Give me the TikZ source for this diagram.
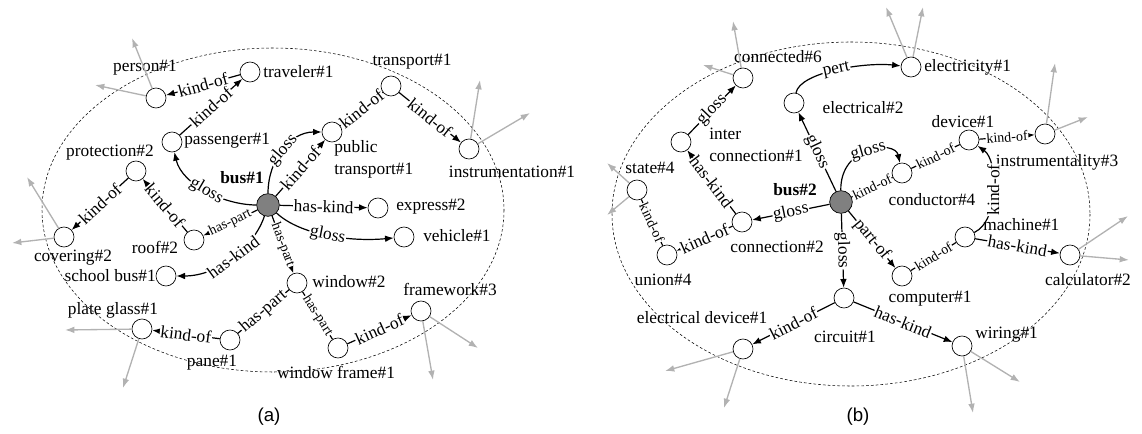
\documentclass[tikz,border=0pt]{standalone}
\usepackage{fontspec}
\setmainfont{Liberation Serif}
\setsansfont{Liberation Sans}
\usetikzlibrary{arrows.meta}
\tikzset{
  concept/.style={circle, draw, line width=0.5pt, minimum size=15pt, inner sep=0pt, fill=white},
  hub/.style={concept, fill=black!50, minimum size=17pt},
  word/.style={inner sep=0pt, font=\fontsize{13}{16.5}\selectfont},
  rel/.style={line width=0.9pt, -{Latex[length=6.5pt,width=5pt]}},
  bare/.style={line width=0.9pt},
  lbl/.style={pos=0.5, sloped, fill=white, inner sep=0.6pt, font=\fontsize{13}{15}\selectfont},
  slbl/.style={lbl, font=\fontsize{10.5}{12}\selectfont},
  away/.style={gray!60, line width=1pt, -{Latex[length=7pt,width=5pt]}},
  halo/.style={dashed, dash pattern=on 2pt off 1.6pt, line width=0.4pt},
  caption/.style={inner sep=0pt, font=\sffamily\fontsize{14}{16}\selectfont}
}
\begin{document}
\begin{tikzpicture}[x=0.75pt, y=-0.75pt]
\useasboundingbox (0,0) rectangle (1142,434);

% (a) bus#1
\draw[halo] (273,210) ellipse [x radius=231, y radius=162];
\node[hub] (bus) at (268,205) {};
\foreach \n/\x/\y in {passenger/172/142, traveler/250/72, person/156/98,
    protection/136/171, covering/64/237, roof/194/240, schoolbus/166/276,
    window/297/283, pane/230/340, plateglass/142/329, windowframe/338/348,
    framework/421/311, vehicle/404/237, express/378/208, publictr/332/132,
    transport/391/86, instrument/469/149}
  \node[concept] (\n) at (\x,\y) {};

\node[word, font=\fontsize{13}{16.5}\selectfont\bfseries] (buslab) at (242,178) {bus\#1};
\node[word] (personlab) at (145,68) {person\#1};
\node[word, anchor=west] (travelerlab) at (263,72) {traveler\#1};
\node[word, anchor=west] (passengerlab) at (184,141) {passenger\#1};
\node[word] (protectionlab) at (110,153) {protection\#2};
\node[word] (coveringlab) at (73,258) {covering\#2};
\node[word] (rooflab) at (155,247) {roof\#2};
\node[word, anchor=east] (schoolbuslab) at (156,276) {school bus\#1};
\node[word] (plateglasslab) at (113,310) {plate glass\#1};
\node[word] (panelab) at (212,363) {pane\#1};
\node[word] (windowframelab) at (336,372) {window frame\#1};
\node[word] (frameworklab) at (450,289) {framework\#3};
\node[word, anchor=west] (windowlab) at (312,282) {window\#2};
\node[word, anchor=west] (vehiclelab) at (423,236) {vehicle\#1};
\node[word, anchor=west] (expresslab) at (396,207) {express\#2};
\node[word, anchor=north west, align=left] (publictrlab) at (334,140) {public\\transport\#1};
\node[word] (transportlab) at (412,62) {transport\#1};
\node[word] (instrumentlab) at (512,172) {instrumentation\#1};

\draw[rel] (bus) .. controls (225,205) and (182,185) .. (passenger) node[lbl] {gloss};
\draw[rel] (bus) .. controls (268,160) and (290,132) .. (publictr) node[lbl] {gloss};
\draw[rel] (bus) -- (publictr) node[lbl] {kind-of};
\draw[rel] (bus) -- (express) node[lbl] {has-kind};
\draw[rel] (bus) .. controls (300,235) and (350,242) .. (vehicle) node[lbl] {gloss};
\draw[rel] (bus) -- (roof) node[slbl] {has-part};
\draw[rel] (bus) .. controls (255,245) and (220,276) .. (schoolbus) node[lbl] {has-kind};
\draw[rel] (bus) -- (window) node[slbl] {has-part};
\draw[bare] (window) -- (pane) node[lbl] {has-part};
\draw[bare] (window) -- (windowframe) node[slbl] {has-part};
\draw[rel] (pane) -- (plateglass) node[lbl] {kind-of};
\draw[rel] (windowframe) -- (framework) node[lbl] {kind-of};
\draw[rel] (roof) -- (protection) node[lbl] {kind-of};
\draw[rel] (protection) -- (covering) node[lbl] {kind-of};
\draw[rel] (passenger) -- (traveler) node[lbl] {kind-of};
\draw[rel] (traveler) -- (person) node[lbl] {kind-of};
\draw[bare] (publictr) -- (transport) node[lbl] {kind-of};
\draw[rel] (transport) -- (instrument) node[lbl] {kind-of};

\foreach \n/\x/\y in {person/132/38, person/95/85, covering/27/177, covering/12/243,
    plateglass/65/330, plateglass/123/388, framework/433/380, framework/478/348,
    instrument/480/80, instrument/530/113}
  \draw[away] (\n) -- (\x,\y);

\node[caption] (capa) at (269,417) {(a)};

% (b) bus#2
\draw[halo] (851,214) ellipse [x radius=239, y radius=172];
\node[hub] (bus2) at (841,202) {};
\foreach \n/\x/\y in {electrical/794/103, electricity/911/67, connected/743/78,
    interconn/681/142, state/637/190, union/667/255, connection/742/222,
    conductor/902/173, device/969/140, instrumentality/1045/134, machine/965/237,
    calculator/1070/255, computer/902/276, circuit/844/298, eldevice/743/349,
    wiring/962/346}
  \node[concept] (\n) at (\x,\y) {};

\node[word, font=\fontsize{13}{16.5}\selectfont\bfseries] (bus2lab) at (795,190) {bus\#2};
\node[word] (connectedlab) at (778,57) {connected\#6};
\node[word] (electricallab) at (863,108) {electrical\#2};
\node[word, anchor=west] (electricitylab) at (924,67) {electricity\#1};
\node[word, anchor=north west, align=left] (interconnlab) at (709,128) {inter\\connection\#1};
\node[word] (statelab) at (650,168) {state\#4};
\node[word] (unionlab) at (663,280) {union\#4};
\node[word] (connectionlab) at (777,247) {connection\#2};
\node[word] (conductorlab) at (932,200) {conductor\#4};
\node[word] (devicelab) at (963,122) {device\#1};
\node[word] (instrumentalitylab) at (1057,162) {instrumentality\#3};
\node[word, anchor=west] (machinelab) at (983,225) {machine\#1};
\node[word] (calculatorlab) at (1088,280) {calculator\#2};
\node[word] (computerlab) at (930,299) {computer\#1};
\node[word] (circuitlab) at (845,337) {circuit\#1};
\node[word] (eldevicelab) at (702,318) {electrical device\#1};
\node[word, anchor=west] (wiringlab) at (975,335) {wiring\#1};

\draw[rel] (bus2) -- (electrical) node[lbl] {gloss};
\draw[rel] (electrical) .. controls (800,72) and (865,62) .. (electricity) node[lbl] {pert};
\draw[rel] (bus2) .. controls (840,145) and (895,140) .. (conductor) node[lbl] {gloss};
\draw[bare] (bus2) -- (conductor) node[slbl] {kind-of};
\draw[bare] (conductor) -- (device) node[slbl] {kind-of};
\draw[rel] (device) -- (instrumentality) node[slbl] {kind-of};
\draw[rel] (machine) .. controls (1000,220) and (998,160) .. (device) node[lbl] {kind-of};
\draw[bare] (computer) -- (machine) node[slbl] {kind-of};
\draw[rel] (machine) -- (calculator) node[lbl] {has-kind};
\draw[rel] (bus2) -- (computer) node[lbl] {part-of};
\draw[rel] (bus2) -- (circuit) node[lbl] {gloss};
\draw[rel] (circuit) -- (eldevice) node[lbl] {kind-of};
\draw[rel] (circuit) -- (wiring) node[lbl] {has-kind};
\draw[rel] (bus2) -- (connection) node[lbl] {gloss};
\draw[rel] (connection) -- (interconn) node[lbl] {has-kind};
\draw[rel] (interconn) -- (connected) node[lbl] {gloss};
\draw[rel] (connection) -- (union) node[lbl] {kind-of};
\draw[bare] (union) -- (state) node[slbl] {kind-of};

\foreach \n/\x/\y in {connected/733/21, connected/703/65, state/607/163, state/607/215,
    electricity/886/7, electricity/923/7, instrumentality/1055/63, instrumentality/1088/117,
    calculator/1128/216, calculator/1129/260, wiring/1020/382, wiring/973/413,
    eldevice/665/371, eldevice/724/408}
  \draw[away] (\n) -- (\x,\y);

\node[caption] (capb) at (858,417) {(b)};
\end{tikzpicture}
\end{document}
